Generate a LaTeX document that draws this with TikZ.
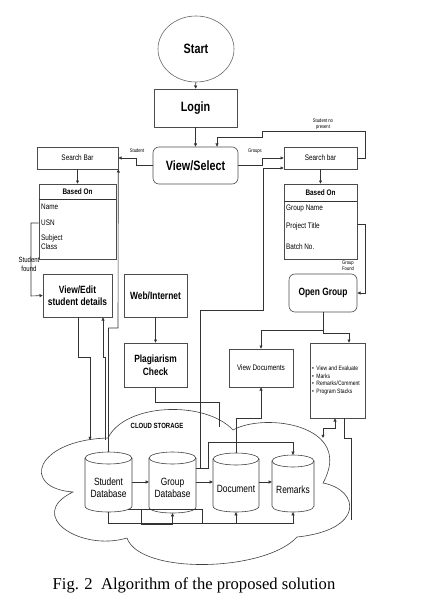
\documentclass[tikz,border=0pt]{standalone}
\usepackage{fontspec}
\setmainfont{Liberation Sans}[FakeStretch=0.8]
\newfontfamily\capfamily{Liberation Serif}
\usetikzlibrary{arrows.meta,shapes.geometric}
\newcommand\myBig{\fontsize{13.5}{15}\bfseries\selectfont}
\newcommand\myMid{\fontsize{10.5}{12.5}\bfseries\selectfont}
\newcommand\myReg{\fontsize{8}{9}\selectfont}
\newcommand\myHead{\fontsize{8}{9}\bfseries\selectfont}
\newcommand\myDb{\fontsize{10.5}{12}\selectfont}
\newcommand\myTiny{\fontsize{5.2}{6.2}\selectfont}
\newcommand\mySeven{\fontsize{7.5}{9}\selectfont}
\newcommand\myEval{\fontsize{6.3}{7.7}\selectfont}
\newcommand\myCloud{\fontsize{7.5}{9}\bfseries\selectfont}
\newcommand\myCap{\fontsize{16.6}{18}\capfamily\selectfont}
\newcommand\drawcyl[5]{%
  \draw[cylline] (#1,{#3+#5}) -- (#1,{#4-#5}) .. controls (#1,{#4+#5/3}) and (#2,{#4+#5/3}) .. (#2,{#4-#5}) -- (#2,{#3+#5});
  \draw[cylline] ({(#1+#2)/2},{#3+#5}) ellipse [x radius={(#2-#1)/2}, y radius=#5];}
\tikzset{
  box/.style={draw=black!70, line width=0.6pt, rectangle, inner sep=1pt, align=center},
  rbox/.style={box, rounded corners=6pt},
  conn/.style={draw=black!80, line width=0.6pt, -{Triangle[length=3.2pt,width=3pt]}},
  plain/.style={draw=black!80, line width=0.6pt},
  cylline/.style={draw=black!75, line width=0.6pt},
  cylnode/.style={draw=none, rectangle, inner sep=0pt},
  txt/.style={inner sep=0pt, align=left, anchor=west},
  tinyl/.style={inner sep=0pt, align=center, font=\myTiny},
}
\begin{document}
\begin{tikzpicture}[x=1pt,y=-1pt]
\useasboundingbox (0,0) rectangle (428,604);
% cloud
\draw[cylline] (108,438) .. controls (125,403) and (205,400) .. (233,430)
  .. controls (265,412) and (355,425) .. (323,483)
  .. controls (360,490) and (365,530) .. (297,537)
  .. controls (265,572) and (140,575) .. (127,538)
  .. controls (80,552) and (25,515) .. (73,492)
  .. controls (20,488) and (35,440) .. cycle;
\node[font=\myCloud, inner sep=0pt] (cloudlbl) at (157,426) {CLOUD STORAGE};

% top nodes
\node[draw=black!60, line width=0.6pt, ellipse, minimum width=76pt, minimum height=66pt, inner sep=0pt, font=\myBig] (start) at (196,49) {Start};
\node[box, minimum width=83pt, minimum height=38pt, font=\myBig] (login) at (195.5,108) {Login};
\node[rbox, minimum width=85pt, minimum height=37pt, font=\myBig] (view) at (195.5,165.5) {View/Select};

% search bars
\node[box, minimum width=81pt, minimum height=22pt, font=\myReg] (sbL) at (77.5,158) {Search Bar};
\node[box, minimum width=73pt, minimum height=22pt, font=\myReg] (sbR) at (320.5,158) {Search bar};

% based on boxes
\node[box, minimum width=77pt, minimum height=75pt] (basedL) at (77.5,221.5) {};
\draw[plain] (39,199) -- (116,199);
\node[inner sep=0pt, font=\myHead] (bLh) at (77.5,191.5) {Based On};
\node[txt, font=\myReg] (bL1) at (41,207) {Name};
\node[txt, font=\myReg] (bL2) at (41,223) {USN};
\node[txt, font=\myReg] (bL3) at (41,242.5) {Subject\\Class};

\node[box, minimum width=73pt, minimum height=75pt] (basedR) at (320.5,221.5) {};
\draw[plain] (284,201) -- (357,201);
\node[inner sep=0pt, font=\myHead] (bRh) at (320.5,192.5) {Based On};
\node[txt, font=\myReg] (bR1) at (286,209) {Group Name};
\node[txt, font=\myReg] (bR2) at (286,226) {Project Title};
\node[txt, font=\myReg] (bR3) at (286,247) {Batch No.};

% middle nodes
\node[box, minimum width=69pt, minimum height=43pt, font=\myMid] (viewedit) at (77.5,295.5) {View/Edit\\student details};
\node[box, minimum width=63pt, minimum height=43pt, font=\myMid] (web) at (155.5,295.5) {Web/Internet};
\node[box, minimum width=63pt, minimum height=44pt, font=\myMid] (plag) at (155.5,365) {Plagiarism\\Check};
\node[rbox, minimum width=68pt, minimum height=38pt, font=\myMid] (open) at (323,293) {Open Group};
\node[box, minimum width=64pt, minimum height=38pt, font=\myReg] (viewdocs) at (261,368) {View Documents};
\node[box, minimum width=55pt, minimum height=75pt] (eval) at (337.5,380.5) {};
\node[txt, font=\myEval] (evaltxt) at (312,380.5) {\begin{tabular}{@{}l@{\hspace{2.5pt}}l@{}}\textbullet&View and Evaluate\\\textbullet&Marks\\\textbullet&Remarks/Comment\\\textbullet&Program Stacks\end{tabular}};

% databases
\drawcyl{85}{132}{452}{512}{6}
\drawcyl{149}{196}{452}{513}{6}
\drawcyl{213}{259}{453}{512}{6}
\drawcyl{272}{314}{455}{512}{6}
\node[cylnode, minimum width=47pt, minimum height=60pt] (sdb) at (108.5,482) {};
\node[cylnode, minimum width=47pt, minimum height=61pt] (gdb) at (172.5,482.5) {};
\node[cylnode, minimum width=46pt, minimum height=59pt] (doc) at (236,482.5) {};
\node[cylnode, minimum width=42pt, minimum height=57pt] (rem) at (293,483.5) {};
\node[inner sep=0pt, align=center, font=\myDb] (sdbt) at (108.5,488) {Student\\Database};
\node[inner sep=0pt, align=center, font=\myDb] (gdbt) at (172.5,488) {Group\\Database};
\node[inner sep=0pt, align=center, font=\myDb] (doct) at (236,489) {Document};
\node[inner sep=0pt, align=center, font=\myDb] (remt) at (293,490) {Remarks};

% coordinates for free ends
\coordinate (c1) at (90,440);
\coordinate (c2) at (105,440);
\coordinate (c3) at (219,427);
\coordinate (c4) at (323,438);
\coordinate (c5) at (351,520);
\coordinate (s1) at (141,510);
\coordinate (s2) at (128,509);

% connectors
\draw[conn] (start) -- (login);
\draw[conn] (login) -- (view);
\draw[conn] (sbR.east) -- (365,158) -- (365,131) -- (262,131) -- (262,137) -- (217,137) -- (217,137 |- view.north);
\node[tinyl] (lnp) at (323,124) {Student no\\present};
\draw[conn] (view.west) -- (136,165.5) -- (136,158) -- (sbL.east);
\node[tinyl] (lst) at (137,151) {Student};
\draw[conn] (view.east) -- (262,165.5) -- (262,158) -- (sbR.west);
\node[tinyl] (lgr) at (255,151) {Groups};
\draw[conn] (sbL) -- (basedL);
\draw[conn] (sbR) -- (basedR);
\draw[conn] (basedL.west |- 0,223) -- (31,223) -- (31,296) -- (viewedit.west);
\node[inner sep=0pt, align=center, font=\mySeven] (lsf) at (29,264.5) {Student\\found};
\draw[conn] (basedR.east |- 0,224) -- (365,224) -- (365,293) -- (open.east);
\node[tinyl] (lgf) at (348,266) {Group\\Found};
\draw[conn] (web) -- (plag);
\draw[conn] (viewedit.south -| 78,0) -- (78,357) -- (90,357) -- (c1);
\draw[conn] (c2) -- (105,357) -- (103,357) -- (103,357 |- viewedit.south);
\draw[conn] (sdb.north) -- (108.5,328) -- (118,328) -- (sbL.south east);
\draw[conn] (gdb.east |- 0,468) -- (200,468) -- (200,310) -- (263,310) -- (263,168) -- (sbR.west |- 0,168);
\draw[conn] (200,468) -- (208,468) -- (208,442) -- (293,442) -- (rem.north);
\draw[plain] (plag.south) -- (155.5,402) -- (219,402) -- (c3);
\draw[conn] (doc.north) -- (236,418) -- (261,418) -- (viewdocs.south);
\draw[conn] (open.south) -- (323,330) -- (261,330) -- (viewdocs.north);
\draw[conn] (323,330) -- (323,333) -- (349,333) -- (349,333 |- eval.north);
\draw[conn, {Triangle[length=3.2pt,width=3pt]}-{Triangle[length=3.2pt,width=3pt]}] (c4) -- (323,428) -- (335,428) -- (335,428 |- eval.south);
\draw[plain] (eval.south -| 344,0) -- (344,438) -- (351,438) -- (c5);
\draw[conn] (sdb.east |- 0,482) -- (gdb.west |- 0,482);
\draw[conn] (gdb.east |- 0,482) -- (doc.west |- 0,482);
\draw[conn] (doc.east |- 0,482) -- (rem.west |- 0,482);
\draw[conn] (sdb.south) -- (108.5,523) -- (293,523) -- (rem.south);
\draw[conn] (s1) -- (141,524) -- (172.5,524) -- (gdb.south);
\draw[conn] (s2) -- (202,509) -- (202,523) -- (236,523) -- (doc.south);

% caption
\node[inner sep=0pt, font=\myCap] (cap) at (194,585) {Fig. 2\ \ Algorithm of the proposed solution};
\end{tikzpicture}
\end{document}
